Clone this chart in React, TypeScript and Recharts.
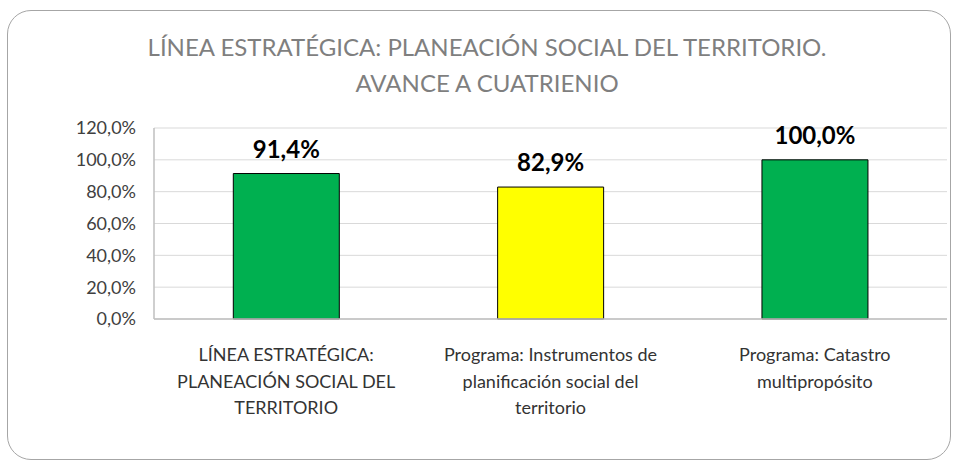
import React from 'react';
import { BarChart, Bar, XAxis, YAxis, CartesianGrid, Cell, LabelList } from 'recharts';

const categories = ['LÍNEA ESTRATÉGICA: PLANEACIÓN SOCIAL DEL TERRITORIO', 'Programa: Instrumentos de planificación social del territorio', 'Programa: Catastro multipropósito'];
const categoryLines = [
  ['LÍNEA ESTRATÉGICA:', 'PLANEACIÓN SOCIAL DEL', 'TERRITORIO'],
  ['Programa: Instrumentos de', 'planificación social del', 'territorio'],
  ['Programa: Catastro', 'multipropósito'],
];
const values = [0.914, 0.829, 1.0];
const barColors = ['#00B050', '#FFFF00', '#00B050'];
const yTicks = [0, 0.2, 0.4, 0.6, 0.8, 1.0, 1.2];
const titleLines = ['LÍNEA ESTRATÉGICA: PLANEACIÓN SOCIAL DEL TERRITORIO.', 'AVANCE A CUATRIENIO'];

const data = categories.map((c, i) => ({ name: c, value: values[i], idx: i }));

const FONT = 'Lato, "Noto Sans", sans-serif';

const fmtPct = (v: number) => (v * 100).toFixed(1).replace('.', ',') + '%';

const CatTick = (props: any) => {
  const { x, y, payload } = props;
  const lines = categoryLines[payload.index] || [String(payload.value)];
  return (
    <g>
      {lines.map((l, i) => (
        <text key={i} x={x} y={y + 34 + i * 26.5} textAnchor="middle" fill="#333333" fontSize={18} fontFamily={FONT}>
          {l}
        </text>
      ))}
    </g>
  );
};

const TopLabel = (props: any) => {
  const { x, y, width, value } = props;
  return (
    <text x={x + width / 2} y={y - 16} textAnchor="middle" fill="#000" fontSize={24} fontWeight="bold" fontFamily={FONT}>
      {fmtPct(value)}
    </text>
  );
};

export default function App() {
  return (
    <div style={{ position: 'absolute', left: 0, top: 0, width: 958, height: 467, background: '#fff', fontFamily: FONT }}>
      <div
        style={{
          position: 'absolute',
          left: 7,
          top: 10,
          width: 944,
          height: 450,
          border: '1.5px solid #a6a6a6',
          borderRadius: 24,
          boxSizing: 'border-box',
        }}
      />
      <div style={{ position: 'absolute', left: 0, top: 0 }}>
        <BarChart width={958} height={467} data={data} margin={{ top: 128, right: 11, bottom: 48, left: 0 }} barCategoryGap="30%">
          <text x={487} y={56} textAnchor="middle" fill="#7f7f7f" fontSize={24} fontFamily={FONT}>
            {titleLines[0]}
          </text>
          <text x={487} y={92} textAnchor="middle" fill="#7f7f7f" fontSize={24} fontFamily={FONT}>
            {titleLines[1]}
          </text>
          <CartesianGrid vertical={false} stroke="#d9d9d9" strokeWidth={1} />
          <XAxis
            dataKey="name"
            height={100}
            interval={0}
            tickLine={false}
            axisLine={{ stroke: '#bfbfbf', strokeWidth: 1.5 }}
            tick={<CatTick />}
          />
          <YAxis
            width={154}
            domain={[0, 1.2]}
            ticks={yTicks}
            tickFormatter={fmtPct}
            tickLine={false}
            tickSize={0}
            tickMargin={18}
            axisLine={{ stroke: '#bfbfbf', strokeWidth: 1.5 }}
            tick={{ fill: '#404040', fontSize: 18, fontFamily: FONT }}
          />
          <Bar dataKey="value" isAnimationActive={false} stroke="#000" strokeWidth={1}>
            {data.map((d, i) => (
              <Cell key={i} fill={barColors[i]} />
            ))}
            <LabelList dataKey="value" content={<TopLabel />} />
          </Bar>
        </BarChart>
      </div>
    </div>
  );
}
